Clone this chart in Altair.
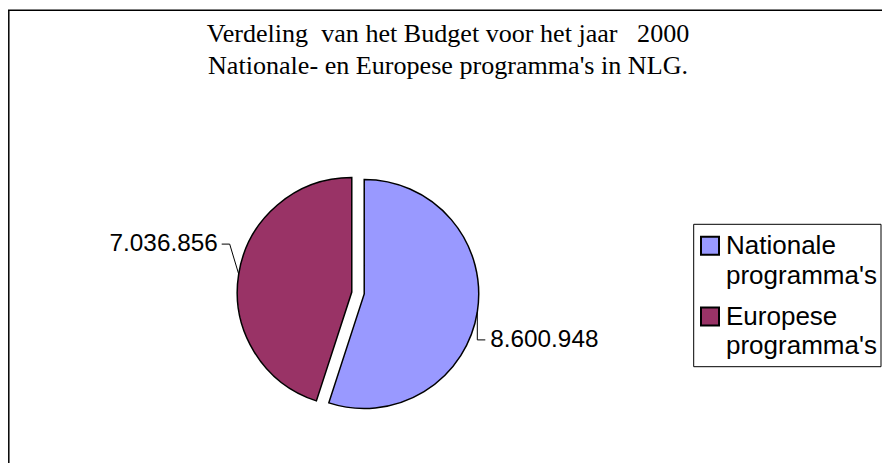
import altair as alt
import pandas as pd

# ---- data ----
CATEGORIES = ["Nationale programma's", "Europese programma's"]
VALUES = [8600948, 7036856]
COLORS = ["#9999FF", "#993366"]
TITLE_LINES = [
    "Verdeling\u00a0 van het Budget voor het jaar\u00a0\u00a0 2000",
    "Nationale- en Europese programma's in NLG.",
]

# ---- layout (view pixels; page = view + 8) ----
W, H = 874, 455
CX, CY = 350, 285
R = 114.5
EXPLODE = 6.3
SANS = "Liberation Sans"
SERIF = "Liberation Serif"

# legend layout
LEG_X0, LEG_X1, LEG_Y0, LEG_Y1 = 685.7, 873, 216.3, 358.7
SYM_X, SYM_Y0, LEG_STEP = 702, 237.8, 70.7
LAB_X, LAB_Y0 = 718, 246

color_scale = alt.Scale(domain=CATEGORIES, range=COLORS)

df = pd.DataFrame({"category": CATEGORIES, "value": VALUES})

base = (
    alt.Chart(df)
    .transform_window(idx="row_number()")
    .transform_joinaggregate(total="sum(value)")
    .transform_window(cum="sum(value)", sort=[alt.SortField(field="idx", order="ascending")], frame=[None, 0])
    .transform_calculate(a0="2*PI*(datum.cum - datum.value)/datum.total")
    .transform_calculate(a1="2*PI*datum.cum/datum.total")
    .transform_calculate(am="(datum.a0 + datum.a1)/2")
    .transform_calculate(side="sin(datum.am) >= 0 ? 1 : -1")
    .transform_calculate(cx=f"{CX} + {EXPLODE}*sin(datum.am)")
    .transform_calculate(cy=f"{CY} - {EXPLODE}*cos(datum.am)")
    .transform_calculate(ex=f"datum.cx + {R}*sin(datum.am)")
    .transform_calculate(ey=f"datum.cy - {R}*cos(datum.am)")
    .transform_calculate(lx="datum.ex + (datum.side > 0 ? 0 : -9)")
    .transform_calculate(ly="datum.ey + (datum.side > 0 ? 28 : -30)")
    .transform_calculate(tx="datum.lx + 8*datum.side")
    .transform_calculate(label="join(split(format(datum.value, ','), ','), '.')")
    .transform_calculate(legy=f"{SYM_Y0} + (datum.idx - 1)*{LEG_STEP}")
    .transform_calculate(legty=f"{LAB_Y0} + (datum.idx - 1)*{LEG_STEP}")
    .transform_calculate(leglines="split(datum.category, ' ')")
)

pie = base.mark_arc(radius=R, stroke="black", strokeWidth=1.5, strokeJoin="miter").encode(
    theta=alt.Theta("a0:Q", scale=None),
    theta2="a1:Q",
    x=alt.X("cx:Q", scale=None, axis=None),
    y=alt.Y("cy:Q", scale=None, axis=None),
    color=alt.Color("category:N", scale=color_scale, legend=None),
)

lead1 = base.mark_rule(color="black", strokeWidth=1).encode(
    x=alt.X("ex:Q", scale=None), y=alt.Y("ey:Q", scale=None), x2="lx:Q", y2="ly:Q"
)
lead2 = base.mark_rule(color="black", strokeWidth=1).encode(
    x=alt.X("lx:Q", scale=None), y=alt.Y("ly:Q", scale=None), x2="tx:Q", y2="ly:Q"
)

txt_right = base.transform_filter("datum.side > 0").mark_text(
    align="left", baseline="middle", dx=5, font=SANS, fontSize=24.3, color="black"
).encode(x=alt.X("tx:Q", scale=None), y=alt.Y("ly:Q", scale=None), text="label:N")

txt_left = base.transform_filter("datum.side < 0").mark_text(
    align="right", baseline="middle", dx=-4, font=SANS, fontSize=24.3, color="black"
).encode(x=alt.X("tx:Q", scale=None), y=alt.Y("ly:Q", scale=None), text="label:N")

one = pd.DataFrame({"k": [0]})
border_top = alt.Chart(one).mark_rule(color="black", strokeWidth=1.5).encode(
    x=alt.value(0), x2=alt.value(W), y=alt.value(2.2)
)
border_left = alt.Chart(one).mark_rule(color="black", strokeWidth=1.5).encode(
    x=alt.value(0.8), y=alt.value(2.2), y2=alt.value(H)
)

title = alt.Chart(one).mark_text(
    font=SERIF, fontSize=26.1, lineHeight=31.5, align="center", baseline="alphabetic", color="black"
).encode(x=alt.value(440), y=alt.value(34), text=alt.value(TITLE_LINES))

# legend drawn from the same colour scale
legend_box = alt.Chart(one).mark_rect(fill="white", stroke="black", strokeWidth=1).encode(
    x=alt.value(LEG_X0), x2=alt.value(LEG_X1), y=alt.value(LEG_Y0), y2=alt.value(LEG_Y1)
)
legend_sym = base.mark_square(size=324, stroke="black", strokeWidth=2, opacity=1).encode(
    x=alt.value(SYM_X),
    y=alt.Y("legy:Q", scale=None),
    color=alt.Color("category:N", scale=color_scale, legend=None),
)
legend_txt = base.mark_text(
    align="left", baseline="alphabetic", font=SANS, fontSize=26, lineHeight=29.5, color="black"
).encode(x=alt.value(LAB_X), y=alt.Y("legty:Q", scale=None), text="leglines:N")

chart = (
    alt.layer(border_top, border_left, title, pie, lead1, lead2, txt_left, txt_right,
              legend_box, legend_sym, legend_txt)
    .properties(width=W, height=H, padding=0, autosize=alt.AutoSizeParams(type="none"))
    .configure_view(stroke=None)
)

chart.save("out.html", embed_options={"renderer": "svg", "actions": False})
